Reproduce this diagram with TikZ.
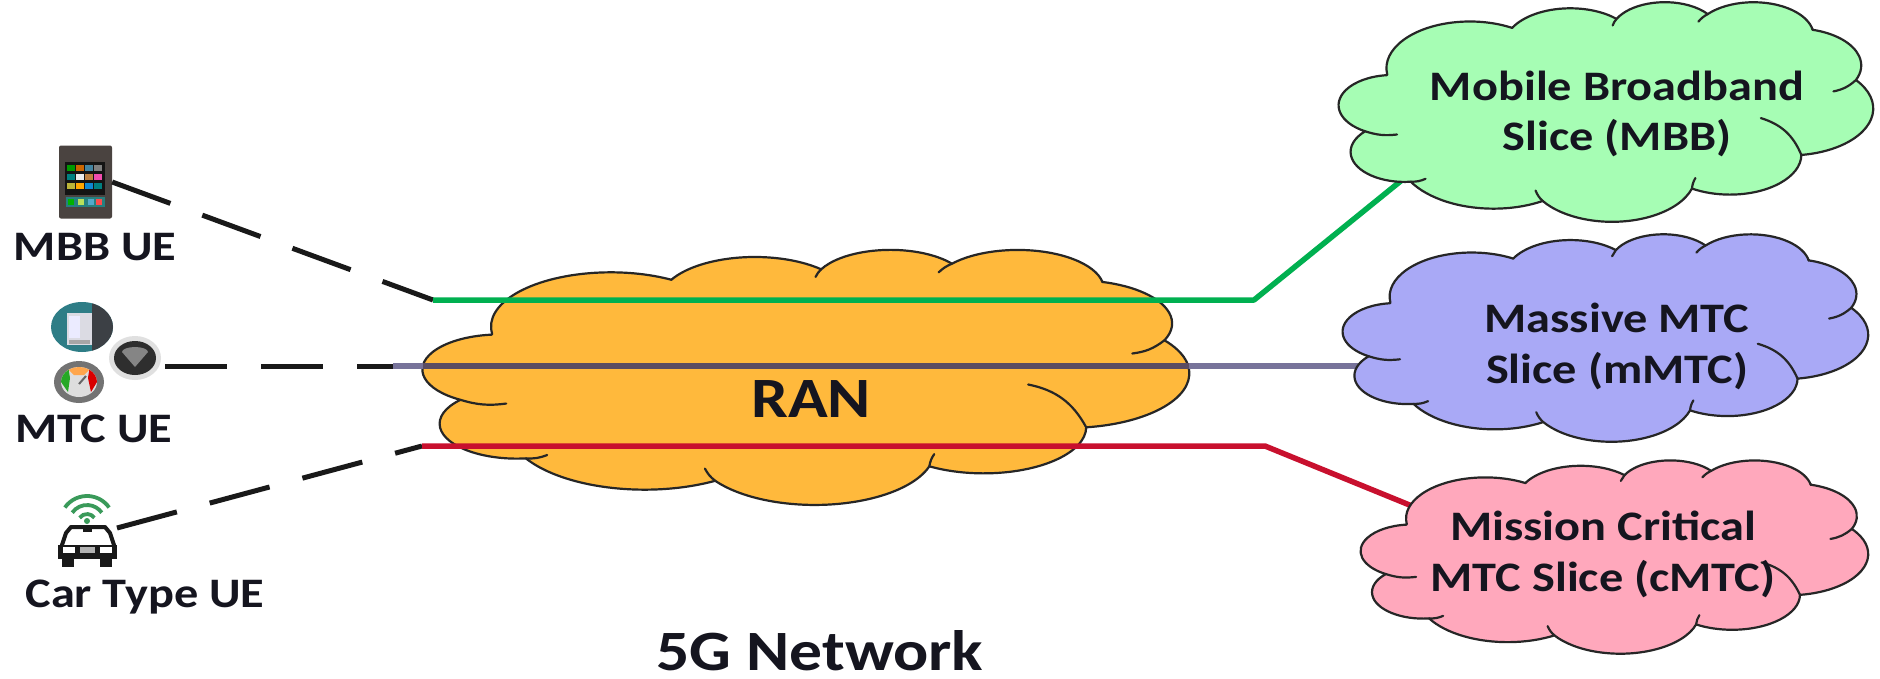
\documentclass[tikz,border=0pt]{standalone}
\usepackage{fontspec}
\usetikzlibrary{shapes.geometric}
\newfontfamily\lab{Carlito}[FakeStretch=1.15]
\definecolor{ranfill}{HTML}{FFB93C}
\definecolor{mbbfill}{HTML}{A6FDB4}
\definecolor{mmtcfill}{HTML}{A9A9F6}
\definecolor{cmtcfill}{HTML}{FFA8BC}
\definecolor{gline}{HTML}{00B050}
\definecolor{pline}{HTML}{77739A}
\definecolor{pdark}{HTML}{5A4C62}
\definecolor{rline}{HTML}{C8102E}
\definecolor{txt}{HTML}{15151F}
\definecolor{tabbody}{HTML}{4A4340}
\definecolor{badgeteal}{HTML}{2E7D86}
\definecolor{badgedark}{HTML}{3C4045}
\definecolor{wifigreen}{HTML}{3A9A5A}
\tikzset{
  cloudline/.style={draw=black!85,line width=2.2pt,line join=round},
  taillink/.style={draw=black!85,line width=2.2pt,line cap=round},
  uelink/.style={draw=black!90,line width=5pt,dash pattern=on 62pt off 34pt},
  slicelink/.style={line width=5.5pt,line join=round},
  uelabel/.style={font=\lab\bfseries\fontsize{42}{42}\selectfont,text=txt,inner sep=0pt,anchor=center},
  slicelabel/.style={font=\lab\bfseries\fontsize{42}{51}\selectfont,text=txt,inner sep=0pt,align=center},
  biglabel/.style={font=\lab\bfseries\fontsize{57}{57}\selectfont,text=txt,inner sep=0pt},
}
\newcommand\carc[4]{arc[x radius=#1,y radius=#2,start angle={atan2(#1*sin(#3),#2*cos(#3))},delta angle={mod(atan2(#1*sin(#3+#4),#2*cos(#3+#4))-atan2(#1*sin(#3),#2*cos(#3))+720,360)}]}
% PowerPoint style cloud, placed by its visible extents
\newcommand\cloudshape[5]{%
  \pgfmathsetmacro\csx{(#3-#2)/43.2}%
  \pgfmathsetmacro\csy{(#5-#4)/42.7}%
  \pgfmathsetmacro\cox{#2}%
  \pgfmathsetmacro\coy{#4-0.5*\csy}%
  \begin{scope}[shift={(\cox,\coy)},x=\csx pt,y=-\csy pt]
    \path[cloudline,fill=#1] (3.9,14.37)
      \carc{6.753}{9.19}{-190.487}{123.781} coordinate (j1)
      \carc{5.333}{7.267}{-144.102}{89.945} coordinate (j2)
      \carc{4.365}{5.945}{-145.808}{99.723} coordinate (j3)
      \carc{4.857}{6.595}{-130.986}{117.242} coordinate (j4)
      \carc{5.333}{7.273}{-78.709}{109.027} coordinate (j5)
      \carc{6.775}{9.22}{-46.267}{130.269} coordinate (j6)
      \carc{5.785}{7.867}{0.625}{114.033} coordinate (j7)
      \carc{6.752}{9.215}{22.452}{115.173} coordinate (j8)
      \carc{7.72}{10.543}{66.243}{75.711} coordinate (j9)
      \carc{4.36}{5.918}{-274.942}{146.736} coordinate (j10)
      \carc{4.345}{5.945}{-246.829}{152.519}
      -- cycle;
    \draw[taillink] (j1) to[bend left=18] (14.0,5.2);
    \draw[taillink] (j2) to[bend right=10] (22.14,4.72);
    \draw[taillink] (j3) to[bend right=10] (29.08,3.95);
    \draw[taillink] (j4) to[bend left=15] (38.32,5.43);
    \draw[taillink] (j5) to[bend left=15] (40.0,17.7);
    \draw[taillink] (j6) to[bend right=25] (34.13,22.95);
    \draw[taillink] (j7) to[bend left=12] (28.83,34.75);
    \draw[taillink] (j8) to[bend left=12] (15.9,37.2);
    \draw[taillink] (j9) to[bend right=12] (7.0,34.9);
    \draw[taillink] (j10) to[bend right=12] (4.69,26.18);
  \end{scope}%
}
\begin{document}
\begin{tikzpicture}[x=1pt,y=-1pt]
\useasboundingbox[fill=white] (0,0) rectangle (1880,678);

% RAN cloud
\cloudshape{ranfill}{423}{1189}{252}{504}
\node[biglabel] (ran) at (811,399) {RAN};

% tablet
\node[fill=tabbody,rounded corners=2pt,minimum width=53pt,minimum height=73pt,inner sep=0pt] (mbbicon) at (85.5,182) {};
\fill[black!92] (65,162) rectangle (105,195);
\foreach \yy/\a/\b/\c/\d in {168/green!60!black/orange!80!black/cyan!60!black/gray,177/teal/white!85!gray/brown/magenta!70,186/yellow!70!black/orange!70!yellow/cyan!70!blue/teal}{
  \fill[\a] (67,\yy-3) rectangle (75,\yy+3);
  \fill[\b] (76,\yy-3) rectangle (84,\yy+3);
  \fill[\c] (85,\yy-3) rectangle (93,\yy+3);
  \fill[\d] (94,\yy-3) rectangle (102,\yy+3);
}
\fill[teal!70!gray] (66,197) rectangle (105,207);
\foreach \xx/\cc in {71/green!70!black,81/yellow!60!green!70,91/cyan!60!gray,99/red!70}{
  \fill[\cc] (\xx-3,199) rectangle (\xx+3,205);
}
% document badge
\begin{scope}
  \clip (82,327) ellipse [x radius=31,y radius=25];
  \fill[badgeteal] (50,300) rectangle (114,355);
  \fill[badgedark] (92,300) rectangle (114,355);
\end{scope}
\fill[blue!12!gray!25] (67,313) rectangle (92,345);
\fill[white!92!blue] (69,316) rectangle (80,338);
\fill[gray!70] (69,340) rectangle (90,344);
% gauge badge
\fill[black!55] (79,382) ellipse [x radius=25,y radius=21];
\fill[black!13] (79,382) ellipse [x radius=18,y radius=15];
\fill[green!60!black!85] (61,382) arc[x radius=18,y radius=15,start angle=180,end angle=235] -- (70,378) -- (68,392) -- cycle;
\fill[red!85!black] (97,382) arc[x radius=18,y radius=15,start angle=0,end angle=-55] -- (88,378) -- (91,392) -- cycle;
\fill[orange!70] (68.7,369.7) arc[x radius=18,y radius=15,start angle=235,end angle=305] -- (84,375) -- (74,375) -- cycle;
\draw[black!60,line width=2pt] (79,384) -- (86,376);
% wifi badge
\node[ellipse,fill=black!12,minimum width=52pt,minimum height=44pt,inner sep=0pt] (mtcicon) at (135,358) {};
\fill[black!82] (135,358) ellipse [x radius=21,y radius=17];
\fill[black!48] (122,352) arc[x radius=13,y radius=5,start angle=180,end angle=360] -- (135,367) -- cycle;
% car
\foreach \rr in {9,18,27}{
  \draw[wifigreen,line width=3.8pt] (87,523) ++(215:\rr) arc[start angle=215,end angle=325,radius=\rr];
}
\fill[wifigreen] (87,521) circle (3);
\coordinate (caricon) at (117,528);
\draw[black!90,line width=4pt,line join=round,fill=white] (61,548) -- (66,533) -- (71,527) -- (105,527) -- (110,533) -- (115,548) -- cycle;
\fill[black!90] (58,545) rectangle (117,559);
\fill[black!90] (62,557) rectangle (74,567);
\fill[black!90] (100,557) rectangle (112,567);
\fill[white] (63,547) rectangle (75,553);
\fill[white] (100,547) rectangle (112,553);
\fill[black!30] (80,547) rectangle (95,553);
\fill[black!90] (83,526) rectangle (92,532);

% connectors
\coordinate (gs) at (433,300);
\coordinate (gb) at (1254,300);
\coordinate (ge) at (1402,180);
\coordinate (ps) at (393,366);
\coordinate (pr) at (423,366);
\coordinate (pm) at (1189,366);
\coordinate (pe) at (1372,366);
\coordinate (rs) at (422,446);
\coordinate (rb) at (1265,446);
\coordinate (re) at (1412,506);
\coordinate (wifiend) at (165,366);
\draw[uelink] (mbbicon.east) -- (gs);
\draw[uelink] (wifiend) -- (ps);
\draw[uelink] (caricon) -- (rs);
\draw[slicelink,gline] (gs) -- (gb) -- (ge);
\draw[slicelink,pline] (ps) -- (pe);
\draw[slicelink,pdark] (pr) -- (pm);
\draw[slicelink,rline] (rs) -- (rb) -- (re);

% slice clouds
\cloudshape{mbbfill}{1339}{1873}{4}{221}
\cloudshape{mmtcfill}{1343}{1868}{236}{441}
\cloudshape{cmtcfill}{1361}{1868}{462}{653}

\node[slicelabel] (mbbt) at (1617,114) {Mobile Broadband\\[-1pt]Slice (MBB)};
\node[slicelabel] (mmtct) at (1617,346) {Massive MTC\\Slice (mMTC)};
\node[slicelabel] (cmtct) at (1603,554) {Mission Critical\\MTC Slice (cMTC)};

\node[uelabel] (mbbl) at (95,247) {MBB UE};
\node[uelabel] (mtcl) at (94,429) {MTC UE};
\node[uelabel] (carl) at (145,597) {Car Type UE};
\node[biglabel] (net) at (820,651) {5G Network};
\end{tikzpicture}
\end{document}
